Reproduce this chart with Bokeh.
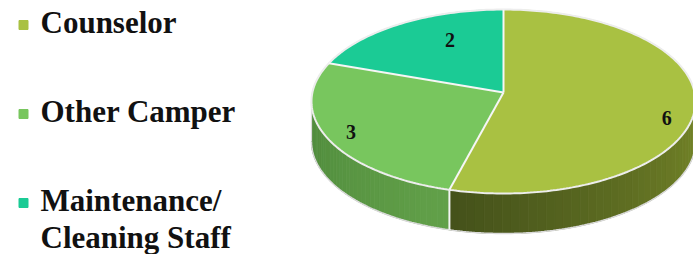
import numpy as np
from bokeh.plotting import figure
from bokeh.models import Range1d
from bokeh.embed import file_html
from bokeh.resources import INLINE
from bokeh.core.properties import value

# ---- data ----
categories = ["Counselor", "Other Camper", "Maintenance/\nCleaning Staff"]
counts = [6, 3, 2]

# ---- styles ----
top_colors = ["#A9C142", "#78C65E", "#1BCB95"]
wall_light = ["#768729", "#62A049", "#17A87B"]
wall_dark = ["#44511A", "#4F8A3C", "#12805F"]
label_r = [0.87, 0.86, 0.72]
label_dtheta = [-4, -2, -10]
FONT = "Liberation Serif"

W, H = 693, 254
p = figure(width=W, height=H, output_backend="svg", toolbar_location=None,
           x_range=Range1d(0, W), y_range=Range1d(H, 0),
           min_border=0, x_axis_location=None, y_axis_location=None)
p.grid.visible = False
p.outline_line_color = None
p.background_fill_color = "white"
p.border_fill_color = "white"

# ellipse geometry (screen-like coords, y down)
cx, cy, a, b = 503, 101, 192, 92
depth = 40
hub = (cx, cy - 9)


def pt(theta):
    t = np.radians(theta)
    return cx + a * np.cos(t), cy - b * np.sin(t)


def hexmix(c1, c2, f):
    r1, g1, b1 = int(c1[1:3], 16), int(c1[3:5], 16), int(c1[5:7], 16)
    r2, g2, b2 = int(c2[1:3], 16), int(c2[3:5], 16), int(c2[5:7], 16)
    return "#%02x%02x%02x" % (round(r1 + (r2 - r1) * f), round(g1 + (g2 - g1) * f), round(b1 + (b2 - b1) * f))


total = sum(counts)
starts, ends = [], []
ang = 90.0
for c in counts:
    starts.append(ang)
    ang -= 360.0 * c / total
    ends.append(ang)

# ---- walls (front half: angles in [-180, 0]) ----
wxs, wys, wcols = [], [], []
seams = []
for i in range(len(counts)):
    s, e = starts[i], ends[i]
    for k in (-1, 0, 1):
        lo = max(e, -180 + 360 * k)
        hi = min(s, 0 + 360 * k)
        if hi > lo:
            n = 40
            edges = np.linspace(lo, hi, n + 1)
            for j in range(n):
                t0, t1 = edges[j], edges[j + 1]
                ts = np.linspace(t0, t1, 4)
                xs_top, ys_top = pt(ts)
                xs = list(xs_top) + list(xs_top[::-1])
                ys = list(ys_top) + list((ys_top + depth)[::-1])
                f = 1 - (j + 0.5) / n
                wxs.append(xs)
                wys.append(ys)
                wcols.append(hexmix(wall_light[i], wall_dark[i], f))
            if lo > -180 + 360 * k:
                seams.append(lo)
p.patches(wxs, wys, fill_color=wcols, line_color=wcols, line_width=0.8)

# wall bottom edge & side edges
tb = np.linspace(-180, 0, 200)
bx, by = pt(tb)
p.line(bx, by + depth, line_color="#D9D9D9", line_width=1.5)
for t in (-180, 0):
    x0, y0 = pt(t)
    p.line([x0, x0], [y0, y0 + depth], line_color="#D9D9D9", line_width=1.2)
for t in seams:
    x0, y0 = pt(t)
    p.line([x0, x0], [y0, y0 + depth], line_color="#F4F4F4", line_width=2)

# ---- top face slices ----
txs, tys = [], []
for i in range(len(counts)):
    ts = np.linspace(starts[i], ends[i], 120)
    x, y = pt(ts)
    txs.append([hub[0]] + list(x))
    tys.append([hub[1]] + list(y))
p.patches(txs, tys, fill_color=top_colors, line_color=top_colors, line_width=0.5)

# outline of top ellipse
te = np.linspace(0, 360, 361)
ex, ey = pt(te)
p.line(ex, ey, line_color="#EDEDED", line_width=2)
# separators
for s in starts:
    x1, y1 = pt(s)
    p.line([hub[0], x1], [hub[1], y1], line_color="#F6F6F6", line_width=2)

# ---- value labels ----
lx, ly = [], []
for i in range(len(counts)):
    m = (starts[i] + ends[i]) / 2 + label_dtheta[i]
    t = np.radians(m)
    lx.append(cx + label_r[i] * a * np.cos(t))
    ly.append(cy - label_r[i] * b * np.sin(t))
p.text(lx, ly, text=[str(c) for c in counts], text_font=value(FONT),
       text_font_style="bold", text_font_size="20px", text_color="#111111",
       text_align="center", text_baseline="middle")

# ---- legend ----
leg_x, leg_y0, leg_step, line_h = 40, 22, 89, 37
mx, my, mc = [], [], []
tx, ty, tt = [], [], []
for i, cat in enumerate(categories):
    base = leg_y0 + i * leg_step
    mx.append(23)
    my.append(base + 2.5)
    mc.append(top_colors[i])
    for j, line in enumerate(cat.split("\n")):
        tx.append(leg_x)
        ty.append(base + j * line_h)
        tt.append(line)
p.scatter(mx, my, marker="square", size=9, fill_color=mc, line_color=mc)
p.text(tx, ty, text=tt, text_font=value(FONT), text_font_style="bold",
       text_font_size="31px", text_color="#111111", text_align="left",
       text_baseline="alphabetic")

open("out.html", "w").write(file_html(p, INLINE))
